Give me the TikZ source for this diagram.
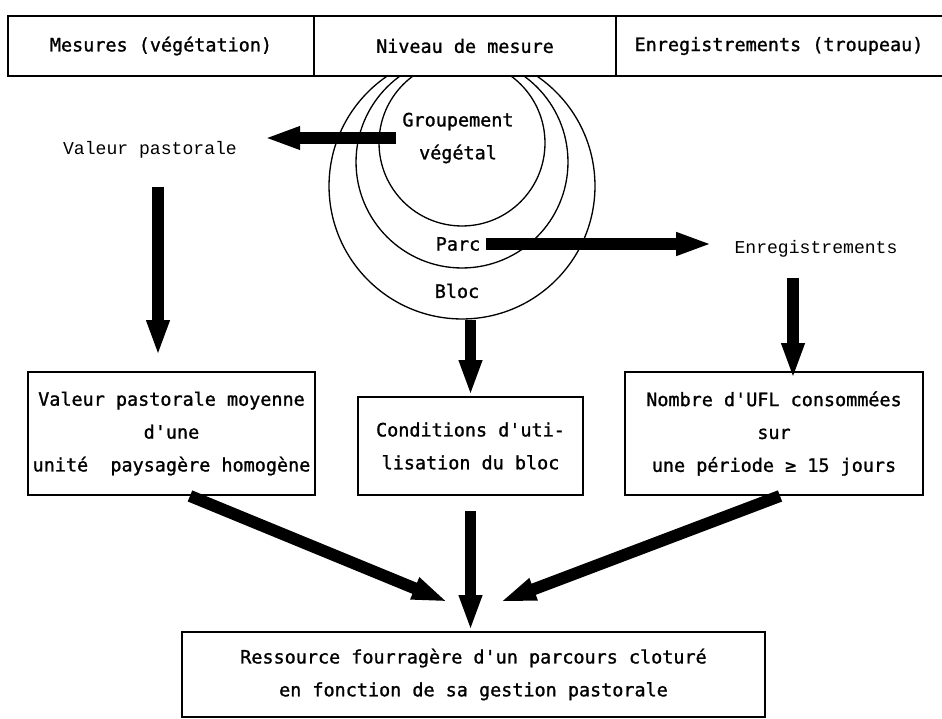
\documentclass[tikz,border=0pt]{standalone}
\usepackage{fontspec}
\setmonofont{DejaVu Sans Mono}[FakeBold=1.2]
\newfontfamily\dotfont{Liberation Mono}
\usetikzlibrary{arrows.meta,calc}
\tikzset{
    block/.style = {draw, rectangle, line width=1.1pt, align=center, inner sep=0pt,
        font=\ttfamily\fontsize{10.5}{18.7}\selectfont},
    header/.style = {rectangle, inner sep=0pt, font=\ttfamily\fontsize{10.5}{12}\selectfont},
    ring/.style = {draw, circle, line width=0.75pt, inner sep=0pt},
    tier/.style = {align=center, font=\ttfamily\fontsize{10.5}{18.7}\selectfont},
    aside/.style = {font=\dotfont\fontsize{10.3}{12}\selectfont, inner xsep=0.54cm},
    bigarrow/.style = {draw, line width=6.8pt, -{Triangle[length=0.72cm, width=0.42cm]}}
}
\begin{document}
\begin{tikzpicture}[x=0.02cm, y=-0.02cm]
    \useasboundingbox (0,0) rectangle (942,719);
    % bandeau du haut
    \node [header, minimum width=6.12cm, minimum height=1.2cm] (hdrVeg) at (161,46) {Mesures (végétation)};
    \node [header, minimum width=6.04cm, minimum height=1.2cm] (hdrNiv) at (465,46) {Niveau de mesure};
    \node [header, minimum width=6.52cm, minimum height=1.2cm] (hdrTrp) at (779,46) {Enregistrements (troupeau)};
    \draw [line width=1.1pt] (hdrTrp.north east) -- (hdrVeg.north west) -- (hdrVeg.south west) -- (hdrTrp.south east);
    \draw [line width=1.1pt] (hdrVeg.north east) -- (hdrVeg.south east) (hdrNiv.north east) -- (hdrNiv.south east);
    % niveaux emboites
    \begin{scope}
        \clip (hdrNiv.south west) rectangle (620,340);
        \foreach \nm/\cy/\dia in {Bloc/186/5.32,Parc/162/4.24,Grp/143/3.32}{
            \node [ring, minimum size=\dia cm] (c\nm) at (462,\cy) {};
        }
    \end{scope}
    \node [tier] (grp) at (458,138) {Groupement\\végétal};
    \node [tier] (parc) at (458,244) {Parc};
    \node [tier] (bloc) at (457,291) {Bloc};
    \node [aside] (vp) at (150,150) {Valeur pastorale};
    \node [aside, inner xsep=0.44cm] (enr) at (816,249) {Enregistrements};
    % cadres
    \node [block, minimum width=5.74cm, minimum height=2.46cm] (vmoy) at (171.5,433.5) {Valeur pastorale moyenne\\d'une\\unité~ paysagère homogène};
    \node [block, minimum width=4.5cm, minimum height=1.96cm] (cond) at (470.5,446) {Conditions d'uti-\\lisation du bloc};
    \node [block, minimum width=5.96cm, minimum height=2.46cm] (ufl) at (774,433.5) {Nombre d'UFL consommées\\sur\\une période ≥ 15 jours};
    \node [block, minimum width=11.66cm, minimum height=1.7cm] (res) at (473.5,674.5) {Ressource fourragère d'un parcours cloturé\\en fonction de sa gestion pastorale};
    % fleches
    \coordinate (vpOut) at (158,187);
    \coordinate (enrOut) at (793,278);
    \coordinate (tipL) at (448,602);
    \coordinate (tipR) at (500,602);
    \draw [bigarrow] (grp.west) -- (grp.west -| vp.east);
    \draw [bigarrow] (parc.east) -- (parc.east -| enr.west);
    \draw [bigarrow, shorten >=0.3cm] (vpOut) -- (vpOut |- vmoy.north);
    \draw [bigarrow, shorten >=-0.16cm] (enrOut) -- (enrOut |- ufl.north);
    \draw [bigarrow] (cond.north |- cBloc.south) -- (cond.north);
    \draw [bigarrow, shorten <=0.3cm] (cond.south) -- (cond.south |- res.north);
    \draw [bigarrow] ([xshift=0.37cm]vmoy.south) -- (tipL);
    \draw [bigarrow] ([xshift=0.12cm]ufl.south) -- (tipR);
\end{tikzpicture}
\end{document}
